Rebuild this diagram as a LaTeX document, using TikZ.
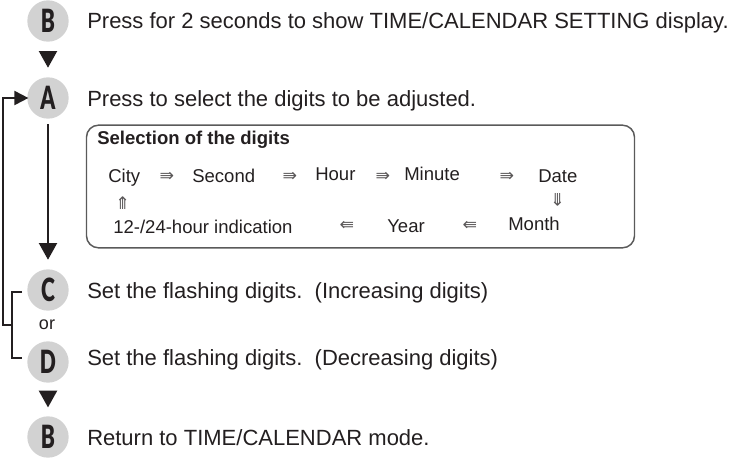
\documentclass[tikz,border=0pt]{standalone}
\usepackage{fontspec}
\usepackage{graphicx}
\setmainfont{Liberation Sans}
\newfontfamily\arrowfont{DejaVu Sans}
\newfontfamily\keyfont{Lato Black}
\usetikzlibrary{arrows.meta}
\definecolor{ink}{HTML}{231F20}
\definecolor{disc}{HTML}{D2D2D2}
\definecolor{boxline}{HTML}{5A5A5A}
\tikzset{
  key/.style={circle, fill=disc, minimum size=31pt, inner sep=0pt, text=ink,
    font=\keyfont\fontsize{24}{24}\selectfont},
  say/.style={anchor=base west, inner sep=0pt, text=ink, font=\fontsize{16.5}{18}\selectfont},
  sel/.style={anchor=base west, inner sep=0pt, text=ink, font=\fontsize{13.9}{15}\selectfont},
  arr/.style={inner sep=0pt, text=ink!75, font=\arrowfont\fontsize{13}{13}\selectfont},
  flow/.style={draw=ink, line width=1.5pt},
  bigtip/.style={-{Triangle[length=12.5pt,width=13.5pt]}},
  smalltip/.style={-{Triangle[length=10.5pt,width=10.5pt]}},
}
\newcommand{\keylabel}[1]{\scalebox{0.66}[1]{#1}}
\begin{document}
\begin{tikzpicture}[x=0.75pt,y=-0.75pt]
\useasboundingbox (0,0) rectangle (732,458);
% keys
\node[key] (B1) at (48,21) {\keylabel{B}};
\node[key] (A)  at (48,98) {\keylabel{A}};
\node[key] (C)  at (48,290) {\keylabel{C}};
\node[key] (D)  at (48,362) {\keylabel{D}};
\node[key] (B2) at (48,437) {\keylabel{B}};
% texts
\node[say] (t1) at (87,28) {Press for 2 seconds to show TIME/CALENDAR SETTING display.};
\node[say] (t2) at (87,106) {Press to select the digits to be adjusted.};
\node[say] (t3) at (87,298) {Set the flashing digits.\ \ (Increasing digits)};
\node[say] (t4) at (87,365) {Set the flashing digits.\ \ (Decreasing digits)};
\node[say] (t5) at (87,445) {Return to TIME/CALENDAR mode.};
\node[inner sep=0pt, text=ink, font=\fontsize{13.5}{14}\selectfont] (or) at (47,325) {or};
% selection box
\node[draw=boxline, line width=1.1pt, rounded corners=9pt, minimum width=411pt, minimum height=92pt,
      inner sep=0pt] (box) at (360.5,186.5) {};
\node[sel, font=\fontsize{13.9}{15}\selectfont\bfseries] (seltitle) at (97,144) {Selection of the digits};
\node[sel] (city) at (108,182) {City};
\node[sel] (second) at (192,182) {Second};
\node[sel] (hour) at (315,180) {Hour};
\node[sel] (minute) at (404,180) {Minute};
\node[sel] (date) at (538,182) {Date};
\node[sel] (h1224) at (113,233) {12-/24-hour indication};
\node[sel] (year) at (387,232) {Year};
\node[sel] (month) at (508,230) {Month};
\node[arr] (a1) at (167,177) {⇛};
\node[arr] (a2) at (290,177) {⇛};
\node[arr] (a3) at (383,177) {⇛};
\node[arr] (a4) at (507,177) {⇛};
\node[arr, rotate=-90] (a5) at (557,200) {⇛};
\node[arr] (a6) at (470,226) {⇚};
\node[arr] (a7) at (347,226) {⇚};
\node[arr, rotate=90] (a8) at (124,203) {⇛};
% connectors
\draw[flow, bigtip, shorten <=9pt, shorten >=7pt] (B1.south) -- (A.north);
\draw[flow, bigtip, shorten <=4pt, shorten >=7pt] (A.south) -- (C.north);
\draw[flow, bigtip, shorten <=10pt, shorten >=6.5pt] (D.south) -- (B2.north);
\coordinate (brkC) at (22,292);
\coordinate (brkD) at (22,358);
\coordinate (brkM) at (12,325);
\draw[flow] (brkC) -- (12,292) -- (12,358) -- (brkD);
\draw[flow, smalltip] (brkM) -- (3,325) |- ([xshift=1pt]A.west);
\end{tikzpicture}
\end{document}
